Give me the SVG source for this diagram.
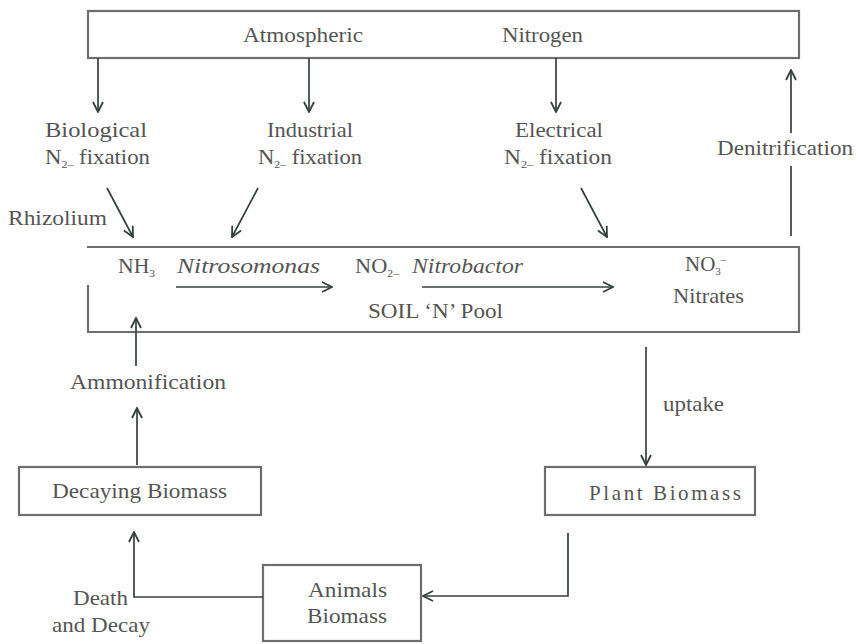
<svg xmlns="http://www.w3.org/2000/svg" width="858" height="644" viewBox="0 0 858 644">
<defs>
<style>
.box{fill:none;stroke:#6e6e6e;stroke-width:2.2}
.ln{fill:none;stroke:#34403f;stroke-width:1.7}
text{font-family:'Liberation Serif','DejaVu Serif',serif;font-size:21px;fill:#555}
.i{font-style:italic}
.s{font-size:11px}
</style>
<marker id="ah" viewBox="0 0 12 12" refX="11" refY="6" markerWidth="12" markerHeight="12" markerUnits="userSpaceOnUse" orient="auto">
<path d="M1,1 L11,6 L1,11" fill="none" stroke="#34403f" stroke-width="1.8"/>
</marker>
</defs>
<rect width="858" height="644" fill="#fff"/>

<g font-family="Liberation Serif, DejaVu Serif, serif">
<g id="atmospheric-nitrogen">
<rect class="box" x="88" y="11" width="711" height="47"/>
<text x="243" y="42" textLength="120" lengthAdjust="spacingAndGlyphs">Atmospheric</text>
<text x="502" y="42" textLength="81" lengthAdjust="spacingAndGlyphs">Nitrogen</text>
</g>

<g id="biological">
<text x="45" y="137" textLength="102" lengthAdjust="spacingAndGlyphs">Biological</text>
<text x="45" y="164" textLength="105" lengthAdjust="spacingAndGlyphs">N<tspan class="s" dy="4">2–</tspan><tspan dy="-4"> fixation</tspan></text>
</g>
<g id="industrial">
<text x="267" y="137" textLength="86" lengthAdjust="spacingAndGlyphs">Industrial</text>
<text x="258" y="164" textLength="104" lengthAdjust="spacingAndGlyphs">N<tspan class="s" dy="4">2–</tspan><tspan dy="-4"> fixation</tspan></text>
</g>
<g id="electrical">
<text x="515" y="137" textLength="88" lengthAdjust="spacingAndGlyphs">Electrical</text>
<text x="504" y="164" textLength="108" lengthAdjust="spacingAndGlyphs">N<tspan class="s" dy="4">2–</tspan><tspan dy="-4"> fixation</tspan></text>
</g>
<g id="denitrification">
<text x="717" y="155" textLength="136" lengthAdjust="spacingAndGlyphs">Denitrification</text>
</g>
<g id="rhizolium">
<text x="8" y="225" textLength="99" lengthAdjust="spacingAndGlyphs">Rhizolium</text>
</g>

<g id="soil-pool">
<path class="box" d="M88,285 V332 H799 V247 H87"/>
<text x="118" y="273" textLength="37" lengthAdjust="spacingAndGlyphs">NH<tspan class="s" dy="4">3</tspan></text>
<text class="i" x="177" y="273" textLength="143" lengthAdjust="spacingAndGlyphs">Nitrosomonas</text>
<text x="355" y="273" textLength="44" lengthAdjust="spacingAndGlyphs">NO<tspan class="s" dy="4">2–</tspan></text>
<text class="i" x="412" y="273" textLength="111" lengthAdjust="spacingAndGlyphs">Nitrobactor</text>
<text x="368" y="318" textLength="135" lengthAdjust="spacingAndGlyphs">SOIL ‘N’ Pool</text>
<text x="685" y="271">NO<tspan class="s" dy="4">3</tspan><tspan class="s" dy="-12">–</tspan></text>
<text x="673" y="303" textLength="71" lengthAdjust="spacingAndGlyphs">Nitrates</text>
</g>

<g id="ammonification">
<text x="70" y="389" textLength="156" lengthAdjust="spacingAndGlyphs">Ammonification</text>
</g>
<g id="uptake">
<text x="663" y="411" textLength="61" lengthAdjust="spacingAndGlyphs">uptake</text>
</g>

<g id="decaying-biomass">
<rect class="box" x="19" y="467" width="242" height="48"/>
<text x="52" y="498" textLength="175" lengthAdjust="spacingAndGlyphs">Decaying Biomass</text>
</g>

<g id="plant-biomass">
<rect class="box" x="545" y="467" width="210" height="48"/>
<text x="589" y="500" textLength="152" lengthAdjust="spacing">Plant Biomass</text>
</g>

<g id="animals-biomass">
<rect class="box" x="263" y="565" width="158" height="76"/>
<text x="308" y="597" textLength="79" lengthAdjust="spacingAndGlyphs">Animals</text>
<text x="307" y="623" textLength="80" lengthAdjust="spacingAndGlyphs">Biomass</text>
</g>

<g id="death-decay">
<text x="73" y="605" textLength="55" lengthAdjust="spacingAndGlyphs">Death</text>
<text x="52" y="632" textLength="98" lengthAdjust="spacingAndGlyphs">and Decay</text>
</g>
</g>

<g id="connectors">
<line class="ln" x1="98" y1="58" x2="98" y2="112" marker-end="url(#ah)"/>
<line class="ln" x1="309" y1="58" x2="309" y2="112" marker-end="url(#ah)"/>
<line class="ln" x1="556" y1="58" x2="556" y2="112" marker-end="url(#ah)"/>
<line class="ln" x1="107" y1="188" x2="133" y2="237" marker-end="url(#ah)"/>
<line class="ln" x1="258" y1="188" x2="232" y2="237" marker-end="url(#ah)"/>
<line class="ln" x1="581" y1="188" x2="607" y2="237" marker-end="url(#ah)"/>
<line class="ln" x1="791" y1="236" x2="791" y2="166"/>
<line class="ln" x1="791" y1="133" x2="791" y2="70" marker-end="url(#ah)"/>
<line class="ln" x1="176" y1="287" x2="332" y2="287" marker-end="url(#ah)"/>
<line class="ln" x1="422" y1="287" x2="613" y2="287" marker-end="url(#ah)"/>
<line class="ln" x1="136" y1="366" x2="136" y2="318" marker-end="url(#ah)"/>
<line class="ln" x1="137" y1="465" x2="137" y2="408" marker-end="url(#ah)"/>
<line class="ln" x1="646" y1="347" x2="646" y2="465" marker-end="url(#ah)"/>
<path class="ln" d="M568,533 V596 H423" marker-end="url(#ah)"/>
<path class="ln" d="M263,597 H134 V532" marker-end="url(#ah)"/>
</g>
</svg>
